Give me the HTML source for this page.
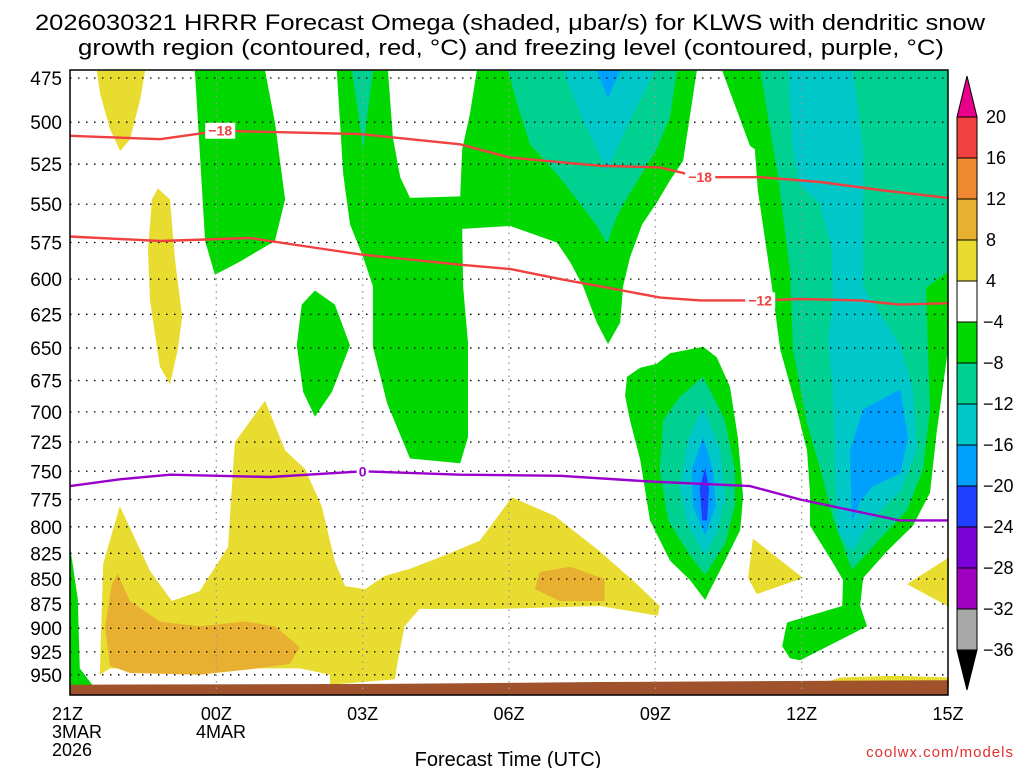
<!DOCTYPE html>
<html><head><meta charset="utf-8"><style>
body{margin:0;background:#fff;width:1024px;height:768px;overflow:hidden;font-family:"Liberation Sans",sans-serif}
svg text{font-family:"Liberation Sans",sans-serif}
</style></head><body>
<svg id="chart" width="1024" height="768" xmlns="http://www.w3.org/2000/svg">
<text x="35" y="30" font-size="22" textLength="950" lengthAdjust="spacingAndGlyphs">2026030321 HRRR Forecast Omega (shaded, μbar/s) for KLWS with dendritic snow</text>
<text x="78" y="55" font-size="22" textLength="866" lengthAdjust="spacingAndGlyphs">growth region (contoured, red, °C) and freezing level (contoured, purple, °C)</text>
<g id="fills"></g>
<g id="grid"></g>
<g id="lines"></g>
<rect x="70" y="70" width="878" height="625" fill="none" stroke="#000" stroke-width="1.5"/>
<g id="axes"></g>
<g id="cbar"></g>
<text x="508" y="766" font-size="20" text-anchor="middle">Forecast Time (UTC)</text>
<text x="1014" y="757" font-size="15" text-anchor="end" fill="#e03030" letter-spacing="1">coolwx.com/models</text>
</svg>
<script>
const pressureTicks=[475,500,525,550,575,600,625,650,675,700,725,750,775,800,825,850,875,900,925,950];
const timeTickHours=[0,3,6,9,12,15];
const timeTickLabels=["21Z","00Z","03Z","06Z","09Z","12Z","15Z"];
const cbarLevels=[20,16,12,8,4,-4,-8,-12,-16,-20,-24,-28,-32,-36];
const cbarColors=["#f04040","#f08830","#e8b030","#e8dc30","#ffffff","#00d800","#00d090","#00c8c8","#00a0ff","#2040ff","#7a00d8","#a000c0","#a8a8a8"];
const isoM18=[[0,508],[1.85,510],[3.08,505],[5.95,507],[8.0,513],[9.02,521],[10.87,526],[12.1,527],[12.92,533],[14.15,533],[15.38,536],[16.6,541],[18,546]];
const isoM12=[[0,571],[1.85,574],[3.69,572],[4.92,578],[5.95,583],[8.0,590],[9.02,593],[10.05,600],[10.87,605],[12.1,613],[12.92,615],[14.15,615],[14.97,614],[16.2,615],[17.0,618],[18,617]];
const iso0=[[0,763],[1.02,757],[2.05,753],[4.1,755],[6.0,750],[8.0,753],[10.05,754],[11.89,759],[13.94,763],[14.97,775],[17.0,794],[18,794]];
const ground=[[0,961],[6.77,960],[10.87,958],[18,956],[18,975],[0,975]];
const Y="#e8dc30",O="#e8b030",G="#00d800",T="#00d090",C="#00c8c8",B="#00a0ff",D="#2040ff",W="#ffffff";
const regions=[
["yellow-top-left",Y,[[0.55,471],[1.54,471],[1.44,487],[1.23,510],[1.03,517],[0.82,504],[0.62,484]]],
["yellow-narrow",Y,[[1.80,540],[2.05,547],[2.15,586],[2.30,627],[2.21,651],[2.05,678],[1.84,664],[1.64,615],[1.60,580],[1.68,547]]],
["yellow-lower",Y,[[0.61,950],[0.68,835],[1.02,781],[1.64,842],[2.09,872],[2.66,862],[3.24,819],[3.38,725],[4.0,691],[4.41,732],[4.82,748],[5.16,781],[5.43,833],[5.64,857],[6.05,860],[6.45,847],[6.97,840],[7.68,827],[8.40,813],[9.06,773],[9.94,790],[10.86,823],[11.58,853],[12.09,877],[12.05,887],[10.86,877],[8.81,880],[7.17,880],[6.86,898],[6.72,935],[6.66,955],[5.33,961],[5.33,950],[4.71,943],[0.82,943]]],
["orange-left",O,[[0.98,845],[1.23,872],[1.84,893],[2.66,898],[3.59,893],[4.20,898],[4.71,920],[4.51,938],[3.69,944],[2.66,950],[1.23,948],[0.82,940],[0.72,898],[0.86,855]]],
["orange-mid",O,[[9.63,843],[10.25,838],[10.96,850],[10.96,872],[10.04,872],[9.53,860]]],
["yellow-small",Y,[[14.0,811],[15.03,849],[14.08,865],[13.9,849]]],
["yellow-right",Y,[[18.02,829],[17.16,855],[18.02,878]]],
["yellow-bottom-strip",Y,[[15.17,964],[15.79,953],[16.95,951],[18.02,953],[18.02,964]]],
["green-left-edge",G,[[0,818],[0.16,870],[0.2,943],[0.51,965],[0,967]]],
["green-00z",G,[[2.56,471],[4.0,471],[4.2,500],[4.41,547],[4.2,574],[3.48,588],[2.97,597],[2.77,574],[2.66,517]]],
["green-blob",G,[[5.02,608],[5.43,618],[5.74,648],[5.37,684],[5.02,704],[4.78,684],[4.65,648],[4.75,618]]],
["green-03z",G,[[5.47,471],[5.60,531],[5.74,563],[6.01,585],[6.21,605],[6.21,649],[6.50,693],[6.97,739],[8.0,743],[8.16,721],[8.16,646],[8.06,605],[8.04,566],[9.02,564],[9.98,575],[10.25,588],[10.52,605],[10.80,631],[11.03,647],[11.28,631],[11.34,605],[11.48,585],[11.73,563],[12.03,549],[12.30,535],[12.57,523],[12.85,471]]],
["gap-03z",W,[[6.52,471],[6.62,509],[6.77,533],[6.97,546],[8.0,545],[8.04,516],[8.2,495],[8.34,471]]],
["teal-stripe",T,[[5.78,471],[6.21,471],[6.11,493],[6.01,516],[5.9,493]]],
["teal-06z",T,[[8.98,471],[9.16,489],[9.43,513],[9.98,531],[10.39,547],[10.80,564],[11.01,576],[11.21,558],[11.48,543],[12.03,516],[12.30,497],[12.44,471]]],
["cyan-06z",C,[[10.11,471],[10.52,499],[11.01,529],[11.48,499],[11.99,471]]],
["blue-06z",B,[[10.8,471],[11.03,486],[11.28,471]]],
["green-10z",G,[[11.38,687],[11.42,672],[11.69,665],[12.03,662],[12.30,654],[12.98,649],[13.26,657],[13.53,680],[13.69,721],[13.80,772],[13.74,803],[13.43,832],[13.12,861],[13.02,871],[12.71,851],[12.30,832],[11.89,794],[11.69,740],[11.48,707]]],
["teal-10z",T,[[12.98,672],[13.43,707],[13.63,748],[13.63,781],[13.43,816],[13.02,846],[12.71,827],[12.26,794],[12.09,748],[12.16,707],[12.5,688]]],
["cyan-10z",C,[[12.98,696],[13.33,732],[13.43,774],[13.28,803],[13.02,827],[12.67,798],[12.5,764],[12.67,723]]],
["blue-10z",B,[[12.98,721],[13.18,748],[13.24,781],[13.02,808],[12.77,781],[12.75,748]]],
["darkblue-10z",D,[[13.02,747],[13.1,765],[13.06,794],[12.96,794],[12.91,765]]],
["green-right",G,[[13.37,471],[13.94,514],[14.04,516],[14.10,541],[14.39,605],[14.56,651],[14.90,698],[15.11,732],[15.17,769],[15.17,799],[15.64,834],[15.85,851],[15.83,877],[14.70,894],[14.60,919],[14.76,932],[14.97,934],[16.34,898],[16.20,877],[16.26,849],[16.75,823],[17.28,799],[17.63,769],[17.77,716],[18.0,651],[18.0,471]]],
["teal-right",T,[[14.15,471],[14.51,532],[14.76,594],[14.82,651],[15.11,709],[15.38,748],[15.64,792],[16.03,841],[16.61,811],[17.16,785],[17.49,748],[17.63,698],[17.57,628],[17.55,606],[18,595],[18,471]]],
["cyan-right",C,[[14.72,471],[14.82,516],[14.97,538],[15.38,550],[15.62,580],[15.64,616],[15.54,645],[15.64,682],[15.68,748],[15.74,803],[16.03,823],[16.46,792],[17.02,768],[17.36,732],[17.28,682],[17.02,648],[16.26,605],[16.26,516],[16.05,471]]],
["blue-right",B,[[16.03,796],[15.99,732],[16.26,698],[17.02,682],[17.18,722],[17.02,752],[16.46,763],[16.2,777]]]
];
const NS="http://www.w3.org/2000/svg";
const X0=70,X1=948,YT=70,YB=695;
function xs(h){return X0+h*(X1-X0)/18;}
function ys(p){return Math.min(YB,Math.max(YT,78+861*Math.log(p/475)));}
function mk(tag,attrs,parent){const e=document.createElementNS(NS,tag);for(const k in attrs)e.setAttribute(k,attrs[k]);parent.appendChild(e);return e;}
function pts(a){return a.map(d=>xs(d[0]).toFixed(1)+","+ys(d[1]).toFixed(1)).join(" ");}
const fills=document.getElementById("fills");
for(const r of regions){
  const el=mk("polygon",{points:pts(r[2]),fill:r[1]},fills);
  
  
}
const gr=mk("polygon",{points:pts(ground),fill:"#a0522d"},fills);


const grid=document.getElementById("grid");
for(const p of pressureTicks){
  const l=mk("line",{x1:X0,x2:X1,y1:ys(p),y2:ys(p),stroke:"#000","stroke-width":1.3,"stroke-dasharray":"1.5 6.5"},grid);
  
  
}
for(const h of timeTickHours){
  if(h===0)continue;
  const l=mk("line",{x1:xs(h),x2:xs(h),y1:YT,y2:YB,stroke:"#999","stroke-width":1.3,"stroke-dasharray":"1.5 5"},grid);
  
  
}
const lines=document.getElementById("lines");
function drawLine(data,color,name,labels){
  const pl=mk("polyline",{points:pts(data),fill:"none",stroke:color,"stroke-width":2.4},lines);
  
  
  for(const [i,txt] of labels){
    const x=xs(data[i][0]),y=ys(data[i][1]);
    const w=txt.length>1?30:12;
    mk("rect",{x:x-w/2,y:y-8,width:w,height:16,fill:"#fff"},lines);
    const t=mk("text",{x:x,y:y+5,"font-size":14,"font-weight":"bold",fill:color,"text-anchor":"middle"},lines);
    t.textContent=txt;
    
    
  }
}
drawLine(isoM18,"#f04040","isotherm-minus18",[[2,"−18"],[8,"−18"]]);
drawLine(isoM12,"#f04040","isotherm-minus12",[[11,"−12"]]);
drawLine(iso0,"#9a00cc","freezing-level",[[4,"0"]]);
const axes=document.getElementById("axes");
for(const p of pressureTicks){
  const t=mk("text",{x:62,y:ys(p)+7,"font-size":19,"text-anchor":"end"},axes);
  t.textContent=p;
  
  
}
timeTickLabels.forEach((lab,i)=>{
  const t=mk("text",{x:xs(i*3),y:720,"font-size":18,"text-anchor":i===0?"start":"middle"},axes);
  if(i===0)t.setAttribute("x",xs(0)-18);
  t.textContent=lab;
  
  
});
[["3MAR",52,738],["2026",52,756],["4MAR",196,738]].forEach(a=>{
  const t=mk("text",{x:a[1],y:a[2],"font-size":18},axes);
  t.textContent=a[0];
  
  
});
const cb=document.getElementById("cbar");
const CX=957,CW=20,CT=117,CS=41;
const up=mk("polygon",{points:`${CX},${CT} ${CX+CW},${CT} ${CX+CW/2},76`,fill:"#e8008a",stroke:"#000"},cb);


cbarColors.forEach((c,i)=>{
  const r=mk("rect",{x:CX,y:CT+i*CS,width:CW,height:CS,fill:c,stroke:"#000","stroke-width":1},cb);
  
  
});
const yb=CT+cbarColors.length*CS;
const dn=mk("polygon",{points:`${CX},${yb} ${CX+CW},${yb} ${CX+CW/2},690`,fill:"#000",stroke:"#000"},cb);


cbarLevels.forEach((v,i)=>{
  const t=mk("text",{x:v<0?983:986,y:CT+i*CS+6,"font-size":18},cb);
  t.textContent=v<0?"−"+(-v):String(v);
  
  
});
</script>
</body></html>
